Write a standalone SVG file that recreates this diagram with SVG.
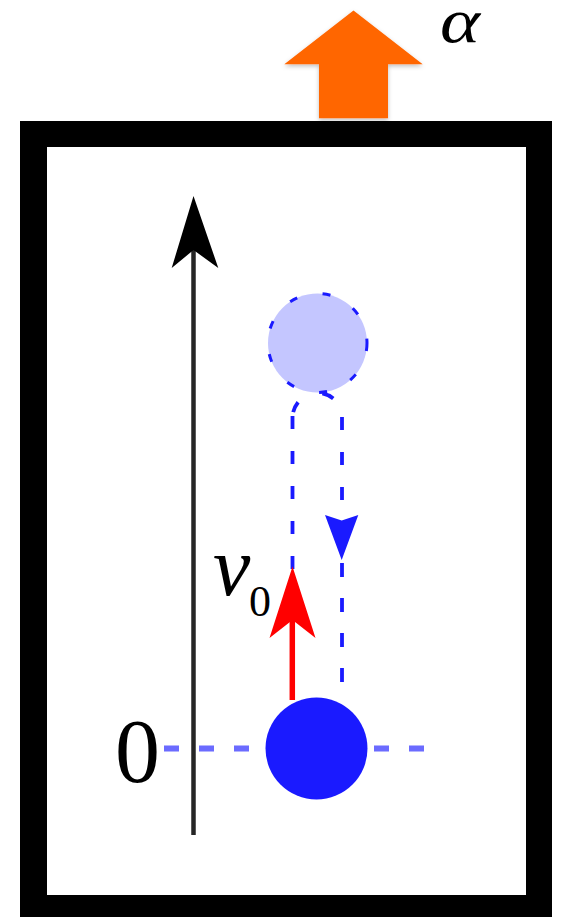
<svg xmlns="http://www.w3.org/2000/svg" width="561" height="917" viewBox="0 0 561 917">
  <style>
    .lbl { font-family: "Liberation Serif", "Times New Roman", serif; fill: #000; }
    .it { font-style: italic; }
    .path-dash { fill: none; stroke: #1a1aff; stroke-width: 3.8; }
  </style>
  <defs>
    <filter id="shadow" x="-20%" y="-20%" width="140%" height="150%">
      <feDropShadow dx="0" dy="2" stdDeviation="2" flood-color="#000" flood-opacity="0.25"/>
    </filter>
  </defs>
  <rect x="0" y="0" width="561" height="917" fill="#fff"/>

  <g id="elevator">
    <rect x="20" y="121" width="532" height="810" fill="#000"/>
    <rect x="47" y="147" width="479" height="748" fill="#fff"/>
  </g>

  <g id="acceleration">
    <polygon points="353.5,10.5 422.7,64.3 388,64.3 388,118.3 319,118.3 319,64.3 284.3,64.3" fill="#ff6600" filter="url(#shadow)"/>
    <text class="lbl it" x="440" y="42" font-size="64" textLength="40" lengthAdjust="spacingAndGlyphs">α</text>
  </g>

  <g id="connectors">
    <!-- vertical axis -->
    <line x1="193.5" y1="245" x2="193.5" y2="835" stroke="#262626" stroke-width="4.5"/>
    <polygon points="193.5,196 218.3,268 193.5,250 171.7,268" fill="#000"/>
    <!-- zero level dashed line -->
    <line x1="164" y1="748.5" x2="425" y2="748.5" stroke="#6b6bff" stroke-width="6" stroke-dasharray="15 20"/>
    <!-- trajectory loop -->
    <line class="path-dash" x1="292.5" y1="416" x2="292.5" y2="700" stroke-dasharray="13 22"/>
    <path class="path-dash" d="M292.5,418 A25,25 0 0 1 342.5,418" stroke-dasharray="0 6 11 27 12 40"/>
    <line class="path-dash" x1="342" y1="417" x2="342" y2="515" stroke-dasharray="13 22"/>
    <line class="path-dash" x1="342" y1="563" x2="342" y2="697" stroke-dasharray="14 21"/>
    <polygon points="325,515 341.7,520.5 358.3,515 341.7,560" fill="#1a1aff"/>
  </g>

  <g id="ball-top">
    <circle cx="317.5" cy="343" r="49.5" fill="#c4c6ff" stroke="#1a1aff" stroke-width="3" stroke-dasharray="8 26"/>
  </g>

  <g id="ball-start">
    <circle cx="316.5" cy="748.5" r="51" fill="#1a1aff"/>
  </g>

  <g id="velocity">
    <line x1="292.3" y1="615" x2="292.3" y2="700" stroke="#ff0000" stroke-width="5.5"/>
    <polygon points="292.5,566.5 315.5,638 292.5,620 269.5,638" fill="#ff0000"/>
    <text class="lbl it" x="213" y="595" font-size="84">v</text>
    <text class="lbl" x="249" y="616" font-size="44">0</text>
  </g>

  <g id="origin-label">
    <text class="lbl" x="115" y="782" font-size="90">0</text>
  </g>
</svg>
